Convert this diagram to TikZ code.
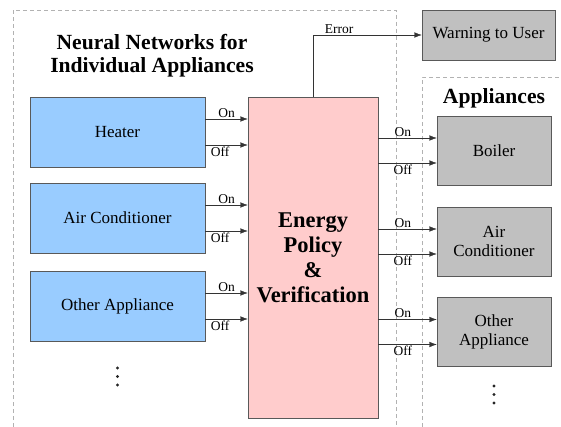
\documentclass[tikz,border=0pt]{standalone}
\usepackage{fontspec}
\setmainfont{Liberation Serif}
\usetikzlibrary{arrows.meta}
\definecolor{nnblue}{HTML}{99CCFF}
\definecolor{polpink}{HTML}{FFCCCC}
\definecolor{appgray}{HTML}{C0C0C0}
\begin{document}
\begin{tikzpicture}[x=1pt,y=-1pt,
    nnbox/.style={draw=black!65,fill=nnblue,minimum width=175pt,minimum height=70pt,font=\fontsize{17}{19}\selectfont},
    appbox/.style={draw=black!65,fill=appgray,minimum width=114pt,minimum height=69pt,align=center,font=\fontsize{17}{19}\selectfont},
    heading/.style={align=center,font=\bfseries\fontsize{21.6}{23}\selectfont},
    group/.style={draw=black!30,dash pattern=on 4pt off 3pt},
    sig/.style={draw=black!80,-{Latex[length=7.5pt,width=5.5pt]}},
    lbl/.style={font=\fontsize{13.5}{14}\selectfont,inner sep=1.5pt}]
    \useasboundingbox (0,0) rectangle (561,427);
    \draw[group] (13,427) -- (13,10) -- (396,10) -- (396,427);
    \draw[group] (422,427) -- (422,77) -- (561,77);
    \node[heading] (nntitle) at (152,56) {Neural Networks for\\Individual Appliances};
    \node[nnbox] (heater) at (117.5,132) {Heater};
    \node[nnbox] (aircon) at (117.5,218) {Air Conditioner};
    \node[nnbox] (other) at (117.5,306) {Other Appliance};
    \foreach \d in {0,8.5,17} \fill[black!85] (117.5,368+\d) circle (1.7pt);
    \node[draw=black!65,fill=polpink,minimum width=130pt,minimum height=321pt,align=center,
        font=\bfseries\fontsize{22.5}{25}\selectfont] (epv) at (313,257.5) {Energy\\Policy\\\&\\Verification};
    \node[draw=black!65,fill=appgray,minimum width=133pt,minimum height=50pt,
        font=\fontsize{17}{19}\selectfont] (warn) at (488.5,35) {Warning to User};
    \node[heading] (apptitle) at (494,98) {Appliances};
    \node[appbox] (boiler) at (494,150.5) {Boiler};
    \node[appbox] (acunit) at (494,241.5) {Air\\Conditioner};
    \node[appbox] (otherapp) at (494,332) {Other\\Appliance};
    \foreach \d in {0,8.5,17} \fill[black!85] (494,386+\d) circle (1.7pt);
    \draw[sig] (epv.north) |- node[lbl,above,pos=0.62] {Error} (warn.west);
    \draw[sig] ([yshift=13pt]heater.east) -- node[lbl,above] {On} ([yshift=13pt]heater.east -| epv.west);
    \draw[sig] ([yshift=-13pt]heater.east) -- node[lbl,below,pos=0.35] {Off} ([yshift=-13pt]heater.east -| epv.west);
    \draw[sig] ([yshift=13pt]aircon.east) -- node[lbl,above] {On} ([yshift=13pt]aircon.east -| epv.west);
    \draw[sig] ([yshift=-13pt]aircon.east) -- node[lbl,below,pos=0.35] {Off} ([yshift=-13pt]aircon.east -| epv.west);
    \draw[sig] ([yshift=13pt]other.east) -- node[lbl,above] {On} ([yshift=13pt]other.east -| epv.west);
    \draw[sig] ([yshift=-13pt]other.east) -- node[lbl,below,pos=0.35] {Off} ([yshift=-13pt]other.east -| epv.west);
    \draw[sig] ([yshift=12.5pt]boiler.west -| epv.east) -- node[lbl,above,pos=0.42] {On} ([yshift=12.5pt]boiler.west);
    \draw[sig] ([yshift=-12.5pt]boiler.west -| epv.east) -- node[lbl,below,pos=0.42] {Off} ([yshift=-12.5pt]boiler.west);
    \draw[sig] ([yshift=12.5pt]acunit.west -| epv.east) -- node[lbl,above,pos=0.42] {On} ([yshift=12.5pt]acunit.west);
    \draw[sig] ([yshift=-12.5pt]acunit.west -| epv.east) -- node[lbl,below,pos=0.42] {Off} ([yshift=-12.5pt]acunit.west);
    \draw[sig] ([yshift=12.5pt]otherapp.west -| epv.east) -- node[lbl,above,pos=0.42] {On} ([yshift=12.5pt]otherapp.west);
    \draw[sig] ([yshift=-12.5pt]otherapp.west -| epv.east) -- node[lbl,below,pos=0.42] {Off} ([yshift=-12.5pt]otherapp.west);
\end{tikzpicture}
\end{document}
